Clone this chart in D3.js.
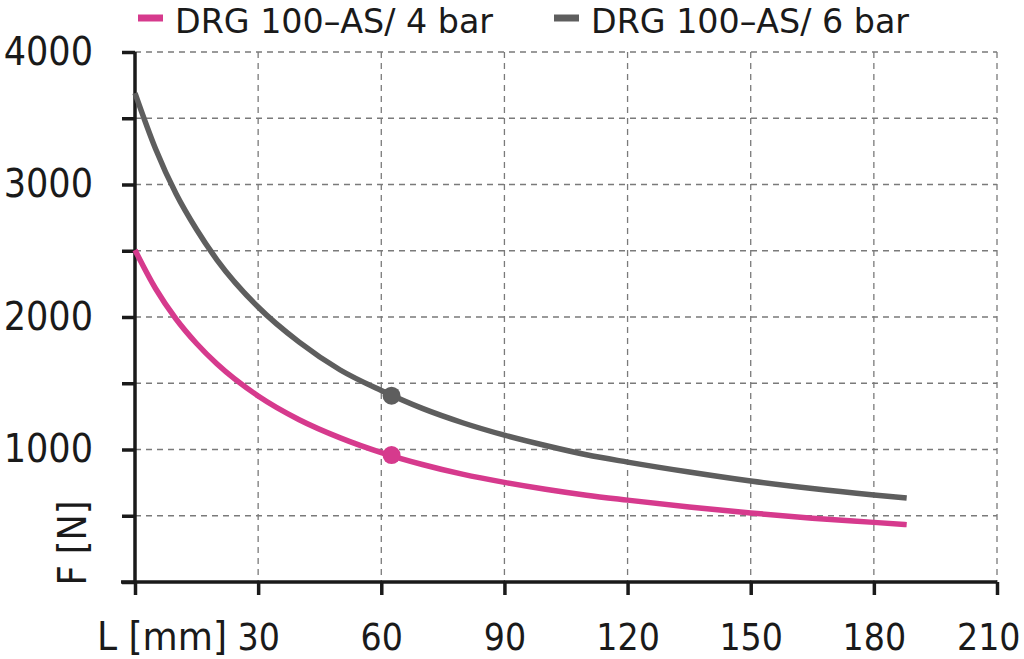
<!DOCTYPE html>
<html><head><meta charset="utf-8">
<script src="https://cdn.jsdelivr.net/npm/d3@7"></script>
<style>body{margin:0;background:#fff}svg{display:block}</style>
</head><body>
<svg id="c" width="1024" height="659"></svg>
<script>
const L_values = [0,5,10,15,20,30,40,50,60,70,80,90,100,110,120,135,150,165,180,188];
const F_6bar = [3690,3270,2930,2660,2430,2075,1810,1600,1445,1310,1200,1108,1030,960,905,830,762,705,657,634];
const F_4bar = [2505,2215,1985,1800,1645,1404,1225,1088,977,887,812,752,700,655,618,566,521,482,450,433];
const markerL = [62.5, 62.5];
const markerF = [958, 1406];
const seriesNames = ["DRG 100–AS/ 4 bar","DRG 100–AS/ 6 bar"];
const seriesColors = ["#d63a8d","#5e5e5e"];
const xTicks = [0,30,60,90,120,150,180,210];
const yTicks = [0,500,1000,1500,2000,2500,3000,3500,4000];
const yLabels = [1000,2000,3000,4000];

const svg = d3.select("#c");
const FONT = "'DejaVu Sans Condensed','DejaVu Sans',sans-serif";
const x = d3.scaleLinear().domain([0,210]).range([135,997]);
const y = d3.scaleLinear().domain([0,4000]).range([582,52]);

// grid
const g = svg.append("g");
g.selectAll(".vg").data(xTicks.slice(1)).join("line")
  .attr("x1",d=>x(d)).attr("x2",d=>x(d)).attr("y1",y(4000)).attr("y2",y(0))
  .attr("stroke","#7a7a7a").attr("stroke-width",1.3).attr("stroke-dasharray","6,5");
g.selectAll(".hg").data(yTicks.slice(1)).join("line")
  .attr("x1",x(0)).attr("x2",x(210)).attr("y1",d=>y(d)).attr("y2",d=>y(d))
  .attr("stroke","#7a7a7a").attr("stroke-width",1.3).attr("stroke-dasharray","6,5");

// axes
const xAxis = d3.axisBottom(x).tickValues(xTicks).tickSize(13).tickFormat(d=>d===0?"":d);
const gx = svg.append("g").attr("transform",`translate(0,${y(0)})`).call(xAxis);
gx.select(".domain").attr("stroke","#1a1a1a").attr("stroke-width",3.5).attr("d",`M${x(0)-14},0H${x(210)}`);
gx.selectAll(".tick line").attr("stroke","#1a1a1a").attr("stroke-width",3.5);
gx.selectAll(".tick text").attr("font-family",FONT).attr("font-size",37).attr("fill","#1a1a1a")
  .attr("y",42).attr("dy","0.71em");
gx.selectAll(".tick text").filter(d=>d===210).attr("text-anchor","end").attr("x",23);

const yAxis = d3.axisLeft(y).tickValues(yTicks).tickSize(13).tickFormat(d=>yLabels.includes(d)?d:"");
const gy = svg.append("g").attr("transform",`translate(${x(0)},0)`).call(yAxis);
gy.select(".domain").attr("stroke","#1a1a1a").attr("stroke-width",3.5).attr("d",`M0,${y(0)}V${y(4000)}`);
gy.selectAll(".tick line").attr("stroke","#1a1a1a").attr("stroke-width",3.5);
gy.selectAll(".tick text").attr("font-family",FONT).attr("font-size",39).attr("fill","#1a1a1a").attr("x",-42);

// axis titles
svg.append("text").attr("x",97).attr("y",650).attr("font-family",FONT).attr("font-size",39).attr("fill","#1a1a1a")
  .attr("textLength",130).attr("lengthAdjust","spacingAndGlyphs").text("L [mm]");
svg.append("text").attr("transform","translate(86,543) rotate(-90)").attr("text-anchor","middle")
  .attr("font-family",FONT).attr("font-size",39).attr("fill","#1a1a1a").text("F [N]");

// curves
const line = d3.line().x(d=>x(d[0])).y(d=>y(d[1])).curve(d3.curveMonotoneX);
const series = [F_4bar, F_6bar];
series.forEach((vals,i)=>{
  svg.append("path").datum(L_values.map((l,j)=>[l,vals[j]]))
    .attr("d",line).attr("fill","none").attr("stroke",seriesColors[i]).attr("stroke-width",5.5);
});
// markers
svg.selectAll(".mk").data([0,1]).join("circle")
  .attr("cx",i=>x(markerL[i])).attr("cy",i=>y(markerF[i]))
  .attr("r",9).attr("fill",i=>seriesColors[i]);

// legend
const legX = [138, 554];
seriesNames.forEach((n,i)=>{
  svg.append("line").attr("x1",legX[i]).attr("x2",legX[i]+25).attr("y1",18).attr("y2",18)
    .attr("stroke",seriesColors[i]).attr("stroke-width",7);
  svg.append("text").attr("x",legX[i]+37).attr("y",33).attr("font-family",FONT).attr("font-size",34)
    .attr("fill","#1a1a1a").attr("textLength",318).attr("lengthAdjust","spacingAndGlyphs").text(n);
});
</script>
</body></html>
